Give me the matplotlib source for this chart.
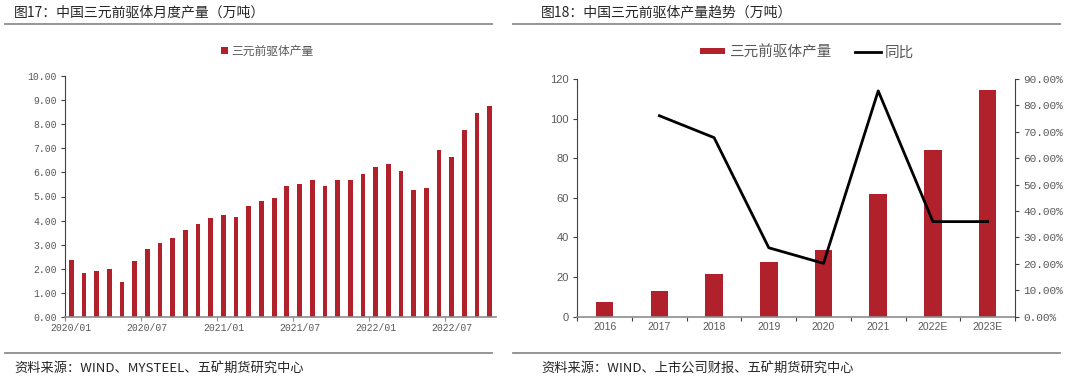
# -*- coding: utf-8 -*-
"""
三元前驱体产量图 - 月度产量 + 年度产量趋势
"""

import matplotlib
matplotlib.use('Agg')
import matplotlib.pyplot as plt
from matplotlib.lines import Line2D
from matplotlib.ticker import FixedLocator, FuncFormatter

plt.rcParams['font.family'] = ['Noto Sans CJK SC', 'DejaVu Sans']

# 月度数据 (2020/01 - 2022/10)
months = [f"{y}/{m:02d}" for y in (2020, 2021, 2022) for m in range(1, 13)][:34]
monthly_output = [2.35, 1.83, 1.92, 1.98, 1.44, 2.34, 2.84, 3.06, 3.28, 3.61,
                  3.86, 4.09, 4.23, 4.16, 4.59, 4.80, 4.92, 5.45, 5.53, 5.70,
                  5.45, 5.67, 5.70, 5.93, 6.24, 6.33, 6.07, 5.26, 5.35, 6.92,
                  6.65, 7.77, 8.45, 8.76]

# 年度数据
years = ["2016", "2017", "2018", "2019", "2020", "2021", "2022E", "2023E"]
annual_output = [7.6, 13.0, 21.5, 27.8, 33.7, 61.8, 84.2, 114.4]
yoy_pct = [None, 76.1, 67.8, 26.1, 20.2, 85.5, 36.0, 36.0]

BAR_COLOR = '#B0212B'
TICK_COLOR = '#595959'
RULE_COLOR = '#8C8C8C'
MONO = 'Liberation Mono'

fig = plt.figure(figsize=(10.8, 3.83), dpi=100)


def px(x, y):
    return x / 1080, 1 - y / 383


# 标题、分隔线、资料来源
fig.text(*px(14, 12), "图17：中国三元前驱体月度产量（万吨）", fontsize=10,
         color='#262626', va='center', ha='left')
fig.text(*px(541, 12), "图18：中国三元前驱体产量趋势（万吨）", fontsize=10,
         color='#262626', va='center', ha='left')
fig.text(*px(14, 368), "资料来源：WIND、MYSTEEL、五矿期货研究中心", fontsize=9.5,
         color='#262626', va='center', ha='left')
fig.text(*px(541, 368), "资料来源：WIND、上市公司财报、五矿期货研究中心", fontsize=9.5,
         color='#262626', va='center', ha='left')
for x0, x1, yy in [(5, 492, 24), (513, 1060, 24), (5, 492, 352.5), (513, 1060, 352.5)]:
    fig.add_artist(Line2D([x0 / 1080, x1 / 1080], [1 - yy / 383] * 2,
                          color=RULE_COLOR, lw=1.3, transform=fig.transFigure))

# 子图1: 月度产量
ax1 = fig.add_axes([65 / 1080, 66 / 383, 431 / 1080, 241 / 383])
xs = list(range(len(months)))
bars1 = ax1.bar(xs, monthly_output, width=0.37, color=BAR_COLOR, label="三元前驱体产量")
ax1.set_xlim(-0.5, len(months) - 0.5)
ax1.set_ylim(0, 10)
ax1.yaxis.set_major_locator(FixedLocator(range(0, 11)))
ax1.yaxis.set_major_formatter(FuncFormatter(lambda v, p: f"{v:.2f}"))
ax1.xaxis.set_major_locator(FixedLocator([i - 0.5 for i in range(0, len(months) + 1, 6)]))
ax1.xaxis.set_major_formatter(FuncFormatter(lambda v, p: ""))
lab_pos = list(range(0, len(months), 6))
ax1.xaxis.set_minor_locator(FixedLocator(lab_pos))
ax1.set_xticklabels([months[i] for i in lab_pos], minor=True)
ax1.tick_params(axis='x', which='minor', length=0, pad=4)
ax1.tick_params(axis='x', which='major', length=3, color=RULE_COLOR)
ax1.tick_params(axis='y', length=3, pad=3, color='#404040')
for lab in ax1.get_xticklabels(minor=True) + ax1.get_yticklabels():
    lab.set_fontfamily(MONO)
    lab.set_fontsize(7)
    lab.set_color(TICK_COLOR)
for s in ('top', 'right'):
    ax1.spines[s].set_visible(False)
ax1.spines['left'].set_color('#404040')
ax1.spines['bottom'].set_color(RULE_COLOR)
ax1.spines['bottom'].set_linewidth(1.2)
ax1.legend(handles=[bars1], loc='center', bbox_to_anchor=px(267, 51),
           bbox_transform=fig.transFigure, frameon=False, fontsize=8.5,
           handlelength=0.6, handleheight=0.6, handletextpad=0.3,
           labelcolor=TICK_COLOR)

# 子图2: 年度产量 + 同比
ax2 = fig.add_axes([577.3 / 1080, 66.3 / 383, 437.7 / 1080, 237.7 / 383])
ys = list(range(len(years)))
bars2 = ax2.bar(ys, annual_output, width=0.32, color=BAR_COLOR, label="三元前驱体产量")
ax2.set_xlim(-0.5, len(years) - 0.5)
ax2.set_ylim(0, 120)
ax2.yaxis.set_major_locator(FixedLocator(range(0, 121, 20)))
ax2.xaxis.set_major_locator(FixedLocator([i - 0.5 for i in range(len(years) + 1)]))
ax2.xaxis.set_major_formatter(FuncFormatter(lambda v, p: ""))
ax2.xaxis.set_minor_locator(FixedLocator(ys))
ax2.set_xticklabels(years, minor=True)
ax2.tick_params(axis='x', which='minor', length=0, pad=4, labelsize=7.5, labelcolor=TICK_COLOR)
ax2.tick_params(axis='x', which='major', length=3, color='#404040')
ax2.tick_params(axis='y', length=3, pad=3, labelsize=8, labelcolor=TICK_COLOR, color='#404040')
for lab in ax2.get_xticklabels(minor=True) + ax2.get_yticklabels():
    lab.set_fontfamily('Liberation Sans')
for s in ('top', 'right'):
    ax2.spines[s].set_visible(False)
ax2.spines['left'].set_color('#404040')
ax2.spines['bottom'].set_color(RULE_COLOR)
ax2.spines['bottom'].set_linewidth(1.2)

ax3 = ax2.twinx()
line_x = [i for i, v in enumerate(yoy_pct) if v is not None]
line_y = [v for v in yoy_pct if v is not None]
line, = ax3.plot(line_x, line_y, color='black', lw=2, label="同比")
ax3.set_ylim(0, 90)
ax3.yaxis.set_major_locator(FixedLocator(range(0, 91, 10)))
ax3.yaxis.set_major_formatter(FuncFormatter(lambda v, p: f"{v:.2f}%"))
ax3.tick_params(axis='y', length=3, pad=3, color='#404040')
for lab in ax3.get_yticklabels():
    lab.set_fontfamily(MONO)
    lab.set_fontsize(8)
    lab.set_color(TICK_COLOR)
for s in ('top', 'left', 'bottom'):
    ax3.spines[s].set_visible(False)
ax3.spines['right'].set_color('#404040')

ax3.legend(handles=[bars2, line], loc='center', bbox_to_anchor=px(807, 52.5),
           bbox_transform=fig.transFigure, frameon=False, fontsize=10.5,
           handlelength=1.75, handleheight=0.3, handletextpad=0.3,
           columnspacing=1.6, ncol=2, labelcolor=TICK_COLOR)

plt.savefig('out.png', dpi=100)
plt.close(fig)
